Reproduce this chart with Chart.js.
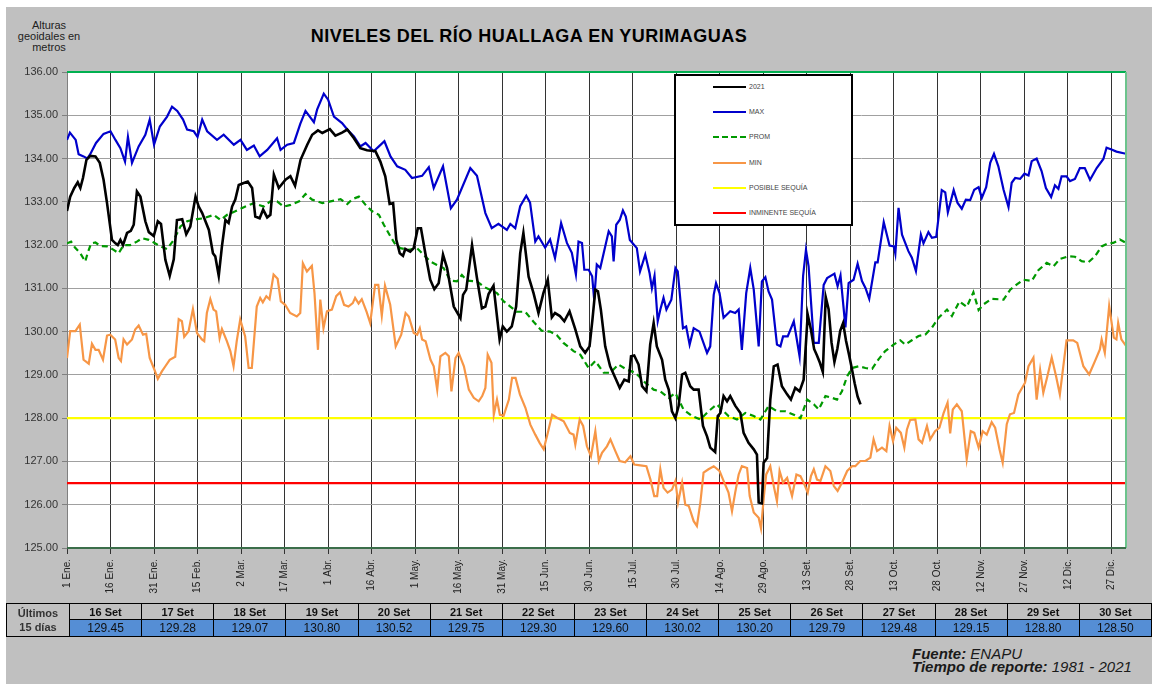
<!DOCTYPE html>
<html>
<head>
<meta charset="utf-8">
<script src="https://cdn.jsdelivr.net/npm/chart.js@4.4.0/dist/chart.umd.min.js"></script>
<style>
  body{margin:0;width:1152px;height:684px;background:#fff;position:relative;overflow:hidden;font-family:"Liberation Sans",Arial,sans-serif}
  #panel{position:absolute;left:6px;top:7px;width:1146px;height:677px;background:#c0c0c0}
  #chartBox{position:absolute;left:6px;top:7px;width:1146px;height:600px}
  #title{position:absolute;left:229px;top:26px;width:600px;text-align:center;font-weight:bold;font-size:18px;letter-spacing:0.5px;color:#000}
  #ytitle{position:absolute;left:0;top:20px;width:98px;text-align:center;font-size:11px;line-height:11px;color:#222}
  #legend{position:absolute;left:674px;top:74px;width:175px;height:148px;border:2px solid #000;background:#fff}
  .lg{position:absolute;left:37px;height:10px;width:140px}
  .lg .ln{position:absolute;left:0;top:4px;width:33px;height:0;border-top:2px solid #000}
  .lg span{position:absolute;left:36px;top:0;font-size:7px;line-height:10px;color:#444}
  #last15{position:absolute;left:6px;top:603px;width:1146px;border-collapse:collapse;table-layout:fixed}
  #last15 td{border:1px solid #000;padding:0;text-align:center;color:#111}
  #last15 td.lab{width:62px;background:#d0d0d0;font-weight:bold;font-size:11px;line-height:14px;color:#333}
  #last15 tr.d td{height:15px;font-weight:bold;font-size:11px;background:#c0c0c0}
  #last15 tr.v td{height:16px;font-size:12px;background:#558ed5}
  #foot{position:absolute;left:912px;top:647px;font-size:15px;line-height:13px;font-style:italic;color:#1a1a1a}
</style>
</head>
<body>
<div id="panel"></div>
<div id="title">NIVELES DEL RÍO HUALLAGA EN YURIMAGUAS</div>
<div id="ytitle">Alturas<br>geoidales en<br>metros</div>
<div id="chartBox"><canvas id="chart" width="1146" height="600"></canvas></div>
<div id="legend"></div>
<table id="last15"></table>
<div id="foot"><b>Fuente:</b> ENAPU<br><b>Tiempo de reporte:</b> 1981 - 2021</div>

<script>
// eje x: un tick cada 15 dias
const tickLabels = ['1 Ene.','16 Ene.','31 Ene.','15 Feb.','2 Mar.','17 Mar.','1 Abr.','16 Abr.','1 May.','16 May.',
  '31 May.','15 Jun.','30 Jun.','15 Jul.','30 Jul.','14 Ago.','29 Ago.','13 Set.','28 Set.','13 Oct.','28 Oct.',
  '12 Nov.','27 Nov.','12 Dic.','27 Dic.'];

// ultimos 15 dias (tabla)
const lastDates = ['16 Set','17 Set','18 Set','19 Set','20 Set','21 Set','22 Set','23 Set','24 Set','25 Set','26 Set','27 Set','28 Set','29 Set','30 Set'];
const lastValues = [129.45,129.28,129.07,130.80,130.52,129.75,129.30,129.60,130.02,130.20,129.79,129.48,129.15,128.80,128.50];

// umbrales
const posibleSequia = 128.0;
const inminenteSequia = 126.5;

// series [dia del año, nivel]
const serie2021 = [[0,132.79],[1.1,133.12],[2.5,133.32],[3.7,133.45],[4.6,133.32],[5.5,133.55],[6.7,133.97],[8,134.06],[9.8,134.05],[11.3,133.9],
  [12.6,133.51],[13.8,132.97],[15.5,132.12],[16.7,132.04],[17.5,132.0],[18.4,132.12],[19.3,132.0],[20.7,132.28],[22,132.33],[23,132.47],
  [24.1,133.24],[25.3,133.12],[27,132.55],[28.2,132.3],[29.9,132.21],[31.3,132.55],[32.4,132.49],[33.9,131.66],[35.4,131.29],[36.8,131.67],
  [37.9,132.58],[39.7,132.6],[41.1,132.25],[42.5,132.43],[44.3,133.12],[45.4,132.89],[46.6,132.74],[48.9,132.35],[50.3,131.81],[51.1,131.74],
  [52.3,131.29],[53.4,131.97],[54.6,132.58],[55.7,132.51],[56.9,132.89],[58,133.05],[59.2,133.39],[60.7,133.43],[62.3,133.47],[63.8,133.32],
  [64.9,132.66],[66.4,132.62],[67.6,132.82],[69,132.64],[70.1,132.7],[71.3,133.63],[73,133.32],[75.3,133.51],[77,133.59],[78.6,133.37],
  [80.5,133.97],[82.8,134.32],[84.5,134.55],[86.5,134.65],[88,134.59],[90.6,134.68],[92.5,134.53],[94.8,134.6],[96.6,134.67],[98.9,134.47],
  [101.1,134.24],[103.4,134.19],[106.3,134.17],[108,133.93],[109.7,133.59],[111.2,132.95],[112.4,132.97],[113.5,132.12],[114.7,131.81],[115.8,131.75],
  [116.6,131.91],[118.3,131.85],[119.5,131.93],[120.9,132.39],[122,132.39],[123.5,131.81],[125.2,131.2],[126.6,130.98],[128.1,131.12],[129.6,131.78],
  [131,131.47],[133.3,130.58],[135.6,130.31],[136.5,130.85],[137.6,130.97],[139.6,132.0],[141.3,131.24],[143,130.54],[144.2,130.58],[145.3,130.87],
  [147,131.06],[149.1,129.82],[150.2,130.12],[151.6,130.0],[153.3,130.12],[154.8,130.58],[156.2,131.81],[157.3,132.28],[159.1,131.27],[160.8,130.89],
  [162.5,130.43],[164.2,130.89],[165.7,131.2],[167.1,130.33],[168.2,130.43],[169.9,130.36],[171.4,130.24],[173.2,130.47],[175.2,130.05],[176.9,129.66],
  [178.6,129.51],[180.1,129.66],[181.1,130.28],[182.1,130.97],[183,130.93],[184,130.51],[185.5,129.66],[187.2,129.2],[189,128.93],[190.5,128.7],
  [192.1,128.89],[193.6,128.85],[194.4,129.43],[195.5,129.45],[197,129.24],[198.2,128.74],[199.7,128.62],[201,129.7],[202.2,130.2],[203.3,129.66],
  [205.1,129.35],[206.2,128.89],[207.4,128.66],[208.5,128.16],[209.7,128.0],[210.8,128.28],[212,129.01],[213.1,129.05],[214.8,128.74],[216,128.66],
  [217.7,128.66],[219.2,127.82],[220.6,127.58],[221.7,127.32],[223.4,127.22],[224.3,128.05],[225.2,128.12],[226.3,128.51],[227.5,128.39],[228.6,128.51],
  [230.3,128.29],[232.1,128.12],[233.2,127.66],[234.9,127.43],[236.7,127.28],[237.8,127.16],[238.4,126.05],[239.5,126.03],[240.1,126.97],[241.3,127.08],
  [242.4,128.43],[243.6,129.2],[244.9,129.24],[246.4,128.74],[248.2,128.55],[249.5,128.43],[251,128.7],[252.5,128.62],[253.9,128.89],[255.3,130.39],
  [256.4,130.05],[257.5,129.6],[258.5,129.45],[259.5,129.28],[260.5,129.07],[261.5,130.80],[262.5,130.52],[263.5,129.75],[264.5,129.30],[265.5,129.60],
  [266.5,130.02],[267.5,130.20],[268.5,129.79],[269.5,129.48],[270.5,129.15],[271.5,128.80],[272.5,128.50],[273.5,128.32]];

const serieMax = [[0,134.43],[1,134.6],[3,134.43],[4,134.1],[5.7,134.05],[7,134.0],[8,134.1],[10,134.36],[12.6,134.57],[15,134.63],
  [16.7,134.43],[18.4,134.24],[20,133.93],[21,134.5],[22.4,133.9],[24.7,134.28],[27,134.55],[28.5,134.9],[30,134.32],[32,134.74],
  [34.5,134.97],[36.2,135.2],[38,135.1],[40,134.9],[41.4,134.67],[43.7,134.63],[45,134.5],[46.6,134.9],[48.3,134.63],[51.7,134.43],
  [54,134.55],[57.5,134.32],[59.8,134.43],[62,134.2],[64.4,134.3],[66.4,134.05],[69,134.2],[72.4,134.47],[73.6,134.2],[75.9,134.32],
  [78.2,134.36],[80.4,134.8],[82.2,135.1],[85.1,134.84],[86.2,135.13],[88.5,135.5],[90,135.36],[92,134.97],[94.8,134.82],[96.6,134.67],
  [98.9,134.51],[101.1,134.28],[102.9,134.36],[105.7,134.17],[107.5,134.28],[109.4,134.4],[111.5,134.05],[113.8,133.82],[116.6,133.74],[118.9,133.55],
  [122.4,133.6],[124.7,133.8],[126.4,133.32],[129.6,133.82],[132.3,132.85],[134.4,133.05],[139,133.78],[141.3,133.6],[144.2,132.74],[146.4,132.39],
  [148.7,132.49],[151.6,132.35],[152.8,132.49],[154.5,132.39],[156.2,132.9],[158.3,133.14],[159.6,132.98],[161.4,132.08],[162.5,132.2],[164.8,131.94],
  [166.5,132.13],[168.2,131.7],[170.3,132.51],[172.3,132.05],[174,131.82],[175.4,131.32],[176.3,132.08],[177.5,132.05],[178.3,131.43],[179.8,131.43],
  [181,131.28],[181.7,130.74],[182.6,131.55],[183.8,131.47],[185.5,131.97],[186.7,132.32],[187.8,132.2],[188.4,131.62],[189.3,132.47],[190.5,132.58],
  [191.6,132.8],[192.6,132.66],[194,132.12],[196.4,131.93],[197.5,131.39],[199.3,131.78],[200.8,131.35],[201.6,131.0],[202.5,131.29],[203.6,130.24],
  [204.5,130.51],[205.6,130.78],[206.6,130.51],[208.3,130.74],[209.7,131.47],[210.5,131.39],[212.3,130.08],[213.4,130.12],[214.6,129.7],[216,130.08],
  [218,130.0],[220.6,129.51],[221.7,129.66],[222.9,130.85],[223.7,131.12],[224.9,130.89],[226.3,130.32],[228.6,130.47],[230.3,130.43],[231.5,130.51],
  [232.6,129.58],[234.1,130.89],[235.5,131.47],[236.7,130.97],[238.4,129.66],[239.5,131.16],[240.7,131.26],[241.8,130.93],[243,130.74],[244.7,129.7],
  [245.9,129.66],[246.8,129.89],[248.4,129.89],[250.5,130.24],[252.5,129.43],[253.7,131.28],[254.7,131.89],[255.6,131.51],[257.4,129.74],[259.1,129.74],
  [260.8,131.08],[262,131.24],[264.5,131.34],[265.6,131.05],[266.6,131.3],[268.3,130.1],[269.4,131.12],[271.1,131.2],[272.5,131.57],[274,131.17],
  [275.2,131.01],[276.5,130.76],[278.6,131.6],[279.4,131.6],[281.5,132.53],[283.5,131.99],[285,131.97],[285.5,131.8],[286.6,132.86],[287.8,132.24],
  [290,131.86],[291.2,131.71],[292.6,131.4],[294.3,132.24],[295.2,132.04],[296.9,132.3],[298.1,132.17],[299.6,132.19],[301.5,133.27],[302.7,133.22],
  [303.6,132.76],[305.6,133.27],[306.9,132.98],[308.4,132.84],[309.8,133.05],[311.3,133.04],[312.7,133.28],[314.2,133.34],[315.3,133.09],[316.8,133.34],
  [318.2,133.9],[319.5,134.11],[321,133.82],[322.8,133.28],[324.5,132.88],[325.6,133.44],[326.8,133.55],[328.5,133.53],[330,133.65],[331.4,133.61],
  [332.5,133.94],[334.2,134.0],[335.9,133.71],[337.4,133.32],[339.2,133.11],[340.5,133.38],[341.7,133.3],[342.8,133.59],[344.5,133.59],[345.7,133.48],
  [347.4,133.53],[349.1,133.78],[350.8,133.78],[352.6,133.51],[354.9,133.78],[357.2,133.99],[358.3,134.25],[360,134.21],[361.7,134.16],[365,134.11]];

const serieProm = [[0,132.04],[1.4,132.08],[2.9,131.93],[4.6,131.81],[6.3,131.62],[7.1,131.81],[8.3,132.04],[9.8,132.06],[11.5,131.98],[13.8,131.97],
  [16.1,131.89],[17.8,131.81],[19.5,132.0],[21.8,132.0],[24.1,132.08],[25.9,132.16],[28.2,132.12],[29.9,132.06],[32.2,131.97],[34.5,131.91],
  [36.8,132.12],[39.1,132.43],[41.4,132.55],[44.8,132.6],[47.1,132.62],[50.6,132.7],[52.9,132.58],[55.2,132.7],[58,132.78],[61.5,132.89],
  [64.4,132.97],[67.8,132.89],[70.1,133.01],[72.4,133.01],[74.7,132.89],[77.1,132.93],[80,133.01],[82.2,133.18],[84.5,133.05],[88,132.97],
  [90.8,133.01],[94.3,133.06],[96.6,132.95],[98.3,133.06],[100.6,133.12],[102.9,132.93],[105.2,132.78],[107.5,132.7],[109.2,132.47],[111.5,132.2],
  [113.2,132.01],[114.9,131.93],[117.8,131.89],[120.6,131.93],[123,131.77],[125.2,131.62],[127.5,131.54],[129.8,131.47],[132.1,131.18],[134.4,131.16],
  [136.1,131.31],[137.8,131.18],[141.3,131.16],[143.6,131.04],[145.9,130.96],[148.2,130.89],[150.5,130.7],[152.8,130.58],[155,130.46],[157.9,130.46],
  [160.8,130.23],[163.6,130.02],[166.5,130.0],[168.8,129.92],[171.1,129.74],[174.6,129.55],[176.9,129.47],[179.8,129.16],[182.1,129.32],[185,129.05],
  [187.2,129.05],[190.1,129.24],[193,129.12],[195.9,129.05],[199.3,128.82],[202.2,128.66],[204.5,128.62],[207.4,128.47],[209.7,128.58],[212.5,128.2],
  [215.4,128.05],[218.3,127.97],[221.1,128.16],[224,128.32],[225.7,128.2],[228,128.05],[230.9,127.97],[233.8,128.12],[236.7,128.05],[239,127.97],
  [241.8,128.28],[244.7,128.16],[247.6,128.16],[250.5,128.08],[252.8,128.0],[255.1,128.43],[257.4,128.32],[259.1,128.2],[261.4,128.51],[263.7,128.47],
  [265.4,128.43],[267.1,128.62],[268.9,128.97],[270.6,129.16],[272.9,129.2],[275.2,129.16],[277.5,129.14],[279.7,129.36],[282,129.55],[284.9,129.7],
  [287.2,129.8],[288.9,129.7],[291.2,129.8],[293.5,129.9],[295.8,129.93],[298.1,130.09],[300.4,130.32],[303.3,130.51],[305,130.36],[307.6,130.7],
  [310.1,130.57],[312.4,130.91],[314.2,130.5],[315.9,130.63],[318.7,130.76],[322.8,130.74],[325.1,130.97],[327.4,131.09],[329.6,131.2],[332.5,131.17],
  [334.8,131.42],[337.7,131.59],[340,131.51],[342.2,131.68],[345.1,131.74],[347.4,131.73],[349.7,131.63],[352,131.6],[354.3,131.74],[356.6,131.97],
  [358.9,132.04],[360.6,132.05],[362.9,132.13],[365,132.05]];

const serieMin = [[0,129.39],[1.1,130.01],[2.9,130.01],[4.4,130.16],[5.7,129.35],[7.5,129.26],[8.6,129.72],[9.8,129.58],[10.9,129.58],[12.4,129.35],
  [13.8,129.91],[14.9,129.93],[16.6,129.82],[17.8,129.39],[18.6,129.32],[19.5,129.82],[20.7,129.7],[22.4,129.82],[23.5,130.05],[24.7,130.14],
  [26.2,129.93],[27.3,129.95],[28.5,129.39],[29.9,129.16],[31.3,128.91],[32.7,129.08],[33.9,129.2],[35.4,129.35],[37.3,129.42],[38.5,130.29],
  [39.6,130.24],[40.4,129.88],[41.9,130.01],[43.4,130.52],[44.8,129.97],[46.5,129.82],[47.3,129.78],[48.2,130.43],[49.4,130.75],[50.5,130.51],
  [51.4,130.47],[52.6,129.85],[53.4,130.06],[55.1,129.78],[56.3,129.55],[57.4,129.2],[58.5,129.78],[59.7,130.28],[61.4,129.89],[62.6,129.16],
  [63.7,129.16],[65.4,130.58],[66.6,130.78],[67.5,130.68],[68.7,130.82],[69.8,130.75],[71.2,131.32],[72.6,131.22],[73.7,130.7],[75.2,130.62],
  [76.9,130.43],[79.2,130.35],[80.4,130.43],[81.3,131.58],[82.7,131.39],[84.4,131.52],[85.3,130.89],[86.5,129.58],[87.3,130.74],[88.4,130.08],
  [89.6,130.47],[91.3,130.51],[92.8,130.82],[94.1,130.91],[95.5,130.62],[97,130.58],[98.5,130.66],[99.3,130.78],[100.5,130.65],[101.6,130.75],
  [103.3,130.45],[104.5,130.2],[106.2,131.08],[107.3,131.08],[108.5,130.37],[109.6,131.06],[111.4,130.62],[113.3,129.66],[115.2,129.93],[116.7,130.43],
  [117.8,130.35],[119.5,129.97],[120.7,129.93],[121.6,130.08],[122.4,129.82],[123.6,129.78],[125.3,129.35],[126.4,129.2],[127.6,128.66],[128.7,129.43],
  [130.4,129.51],[131.6,129.43],[132.5,128.62],[133.9,129.39],[135,129.51],[136.8,129.2],[138.5,128.66],[140.2,128.47],[141.9,128.39],[143.1,128.51],
  [144.2,128.7],[145,129.47],[146.3,129.28],[147.1,128.08],[148.2,128.43],[149.2,128.08],[150.5,128.06],[152.3,128.43],[153.4,128.93],[154.6,128.93],
  [156.1,128.55],[158,128.24],[159.7,127.85],[161.4,127.62],[162.9,127.43],[164.3,127.28],[165.7,127.66],[167.2,128.08],[168.9,128.01],[171.2,127.93],
  [173.3,127.66],[174.6,127.62],[175.2,127.39],[176.7,127.97],[177.9,127.82],[179.2,127.35],[180.6,127.12],[182.1,127.7],[183.3,127.01],[184.4,127.2],
  [186.1,127.35],[187.3,127.51],[189,127.24],[190.5,127.01],[192.4,126.98],[194.2,127.12],[195.5,126.93],[197.6,126.91],[199.7,126.89],[201.1,126.58],
  [202.4,126.2],[203.4,126.2],[204.5,126.82],[205.6,126.39],[207,126.28],[208.5,126.35],[209.7,126.55],[210.6,126.05],[212,126.51],[213.1,126.0],
  [214.3,125.97],[216,125.62],[217.1,125.51],[218.3,126.05],[219.4,126.74],[221.1,126.82],[222.9,126.89],[224.9,126.78],[226.3,126.55],[228,126.28],
  [229.2,125.85],[230.3,126.28],[231.5,126.7],[232.6,126.89],[234.4,126.85],[235.3,126.2],[236.7,125.82],[238.4,125.7],[239.2,125.45],[240.2,126.2],
  [241,126.7],[242.4,126.89],[243.6,126.43],[244.7,126.08],[245.6,126.78],[246.8,126.51],[248.2,126.62],[249.9,126.2],[251.4,126.7],[252.8,126.66],
  [253.9,126.51],[255.3,126.28],[256.4,126.66],[257.4,126.82],[258.5,126.58],[259.7,126.55],[261.4,126.89],[263.1,126.78],[264.3,126.43],[265.6,126.32],
  [267.1,126.51],[268.9,126.78],[270.6,126.89],[271.7,126.89],[273.4,127.01],[275.2,127.01],[276.9,127.09],[278,127.51],[279.2,127.24],[280.9,127.32],
  [282.4,127.24],[283.5,127.82],[284.7,127.47],[285.8,127.78],[287.4,127.66],[288.6,127.32],[289.5,127.74],[290.6,127.96],[292.4,127.97],[293.5,127.51],
  [294.7,127.43],[296.4,127.82],[297.5,127.51],[299.2,127.7],[300.7,127.78],[302.1,128.11],[303.5,128.36],[304.4,127.65],[305.3,128.2],[306.7,128.32],
  [308.4,128.16],[310.1,127.05],[311.5,127.7],[312.7,127.66],[314.2,127.32],[315.6,127.7],[317,127.62],[318.7,127.91],[319.9,127.78],[321.4,127.28],
  [322.5,126.97],[323.9,127.86],[325,128.09],[326.4,128.12],[327.9,128.55],[330.2,128.82],[331.4,129.2],[333.1,129.4],[334.2,128.43],[335.4,129.11],
  [336.5,128.59],[337.9,128.97],[339.4,129.4],[340.9,128.97],[342.2,128.55],[344.5,129.8],[346.8,129.8],[348.2,129.74],[350.3,129.2],[352.3,129.01],
  [354.3,129.32],[356,129.59],[356.6,129.82],[357.7,129.51],[359.2,130.59],[360.8,129.86],[361.7,129.82],[362.3,130.2],[363.4,129.82],[365,129.67]];

const toXY = s => s.map(p => ({x:p[0], y:p[1]}));
const flat = v => [{x:0, y:v}, {x:365, y:v}];

// legend (dentro del grafico)
const legendItems = [
  {label:'2021', color:'#000000', dash:false},
  {label:'MAX', color:'#0000cc', dash:false},
  {label:'PROM', color:'#009900', dash:true},
  {label:'MIN', color:'#f79646', dash:false},
  {label:'POSIBLE SEQUÍA', color:'#ffff00', dash:false},
  {label:'INMINENTE SEQUÍA', color:'#ff0000', dash:false}
];
const legendBox = document.getElementById('legend');
legendItems.forEach((it, i) => {
  const row = document.createElement('div');
  row.className = 'lg';
  row.style.top = (6 + i * 25.2) + 'px';
  row.innerHTML = `<div class="ln" style="border-top:2px ${it.dash ? 'dashed' : 'solid'} ${it.color}"></div><span>${it.label}</span>`;
  legendBox.appendChild(row);
});

// tabla ultimos 15 dias
const tbl = document.getElementById('last15');
tbl.innerHTML = '<tr class="d"><td class="lab" rowspan="2">Últimos<br>15 días</td>' +
  lastDates.map(d => `<td>${d}</td>`).join('') + '</tr>' +
  '<tr class="v">' + lastValues.map(v => `<td>${v.toFixed(2)}</td>`).join('') + '</tr>';

// fondo blanco del area y bordes verdes
const frame = {
  id:'frame',
  beforeDraw(chart){
    const {ctx, chartArea:a} = chart;
    ctx.save();
    ctx.fillStyle = '#ffffff';
    ctx.fillRect(a.left, a.top, a.right - a.left, a.bottom - a.top);
    ctx.restore();
  },
  afterDraw(chart){
    const {ctx, chartArea:a} = chart;
    ctx.save();
    ctx.strokeStyle = '#00b050';
    ctx.lineWidth = 2;
    ctx.beginPath(); ctx.moveTo(a.left, a.top); ctx.lineTo(a.right, a.top); ctx.stroke();
    ctx.strokeStyle = '#6cc48c';
    ctx.beginPath(); ctx.moveTo(a.right, a.top); ctx.lineTo(a.right, a.bottom); ctx.stroke();
    ctx.strokeStyle = '#3b6e4a';
    ctx.beginPath(); ctx.moveTo(a.left, a.bottom); ctx.lineTo(a.right, a.bottom); ctx.stroke();
    ctx.restore();
  }
};

const base = {pointRadius:0, pointHoverRadius:0, tension:0, fill:false};

new Chart(document.getElementById('chart'), {
  type:'line',
  data:{
    datasets:[
      {...base, label:'2021', data:toXY(serie2021), borderColor:'#000000', borderWidth:2.6},
      {...base, label:'MAX', data:toXY(serieMax), borderColor:'#0000cc', borderWidth:2.2},
      {...base, label:'PROM', data:toXY(serieProm), borderColor:'#009900', borderWidth:2.2, borderDash:[6,4]},
      {...base, label:'MIN', data:toXY(serieMin), borderColor:'#f79646', borderWidth:2.2},
      {...base, label:'POSIBLE SEQUÍA', data:flat(posibleSequia), borderColor:'#ffff00', borderWidth:2.2},
      {...base, label:'INMINENTE SEQUÍA', data:flat(inminenteSequia), borderColor:'#ff0000', borderWidth:2.2}
    ]
  },
  options:{
    responsive:false,
    animation:false,
    devicePixelRatio:1,
    layout:{padding:{top:65, right:26, left:0, bottom:0}},
    plugins:{legend:{display:false}, tooltip:{enabled:false}, title:{display:false}},
    scales:{
      x:{
        type:'linear', min:0, max:365,
        afterFit: s => { s.height = 59; },
        ticks:{stepSize:15, includeBounds:false, autoSkip:false, maxRotation:90, minRotation:90, padding:5,
          color:'#222', font:{family:'"Liberation Sans", Arial', size:10},
          callback: v => tickLabels[Math.round(v / 15)] || ''},
        grid:{color:'#333333', lineWidth:1, tickLength:6, tickColor:'#333333'},
        border:{display:false}
      },
      y:{
        min:125, max:136,
        afterFit: s => { s.width = 61; },
        ticks:{stepSize:1, padding:4, color:'#333', font:{family:'"Liberation Sans", Arial', size:11},
          callback: v => v.toFixed(2)},
        grid:{color:'#a0a0a0', lineWidth:1, tickLength:5, tickColor:'#808080'},
        border:{display:true, color:'#808080', width:1}
      }
    }
  },
  plugins:[frame]
});
</script>
</body>
</html>
